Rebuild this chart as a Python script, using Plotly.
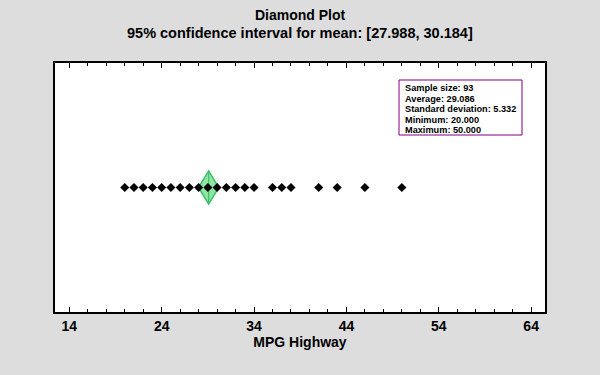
import plotly.graph_objects as go

# Data
mpg_values = [20, 21, 22, 23, 24, 25, 26, 27, 28, 29, 30, 31, 32, 33, 34, 36, 37, 38, 41, 43, 46, 50]
sample_size = 93
average = 29.086
std_dev = 5.332
minimum = 20.0
maximum = 50.0
ci_low = 27.988
ci_high = 30.184
tick_vals = [14, 24, 34, 44, 54, 64]

stats_lines = [
    f"Sample size: {sample_size}",
    f"Average: {average:.3f}",
    f"Standard deviation: {std_dev:.3f}",
    f"Minimum: {minimum:.3f}",
    f"Maximum: {maximum:.3f}",
]

y_level = 0.5
half_h = 0.067

fig = go.Figure()

# Diamond for CI
fig.add_trace(go.Scatter(
    x=[ci_low, average, ci_high, average, ci_low],
    y=[y_level, y_level + half_h, y_level, y_level - half_h, y_level],
    mode="lines", fill="toself",
    fillcolor="#8ee6a0",
    line=dict(color="#3fbf6f", width=1.5),
    hoverinfo="skip", showlegend=False))
fig.add_trace(go.Scatter(
    x=[average, average], y=[y_level + half_h, y_level - half_h],
    mode="lines", line=dict(color="#3fbf6f", width=1.2),
    hoverinfo="skip", showlegend=False))

# Points
fig.add_trace(go.Scatter(
    x=mpg_values, y=[y_level] * len(mpg_values),
    mode="markers",
    marker=dict(symbol="diamond", size=7, color="black"),
    showlegend=False))

font_family = "Liberation Sans, Arial, sans-serif"
plot_top, plot_h = 63, 249


def py(ypix):
    return 1 - (ypix - plot_top) / plot_h


annotations = [
    dict(xref="paper", yref="paper", x=0.5, y=py(15),
         xanchor="center", yanchor="middle", showarrow=False,
         text="<b>Diamond Plot</b>", font=dict(size=14, family=font_family, color="black")),
    dict(xref="paper", yref="paper", x=0.5, y=py(33),
         xanchor="center", yanchor="middle", showarrow=False,
         text="<b>95% confidence interval for mean: [27.988, 30.184]</b>",
         font=dict(size=14.5, family=font_family, color="black")),
]

# stats box text, one line each
for i, line in enumerate(stats_lines):
    ypix = 88.5 + i * 10.4
    annotations.append(dict(
        xref="paper", yref="paper", x=(403 - 55) / 490, y=py(ypix),
        xanchor="left", yanchor="middle", showarrow=False,
        text=f"<b>{line}</b>", font=dict(size=9.2, family=font_family, color="black")))

fig.update_layout(
    width=600, height=375,
    paper_bgcolor="#dddddd",
    plot_bgcolor="white",
    margin=dict(l=55, r=55, t=63, b=63),
    font=dict(family=font_family, color="black"),
    xaxis=dict(
        range=[12.45, 65.5],
        tickvals=tick_vals,
        ticktext=[f"<b>{v}</b>" for v in tick_vals],
        tickfont=dict(size=14, family=font_family),
        ticks="inside", ticklen=5, tickwidth=1, tickcolor="black",
        minor=dict(dtick=2, tick0=14, ticks="inside", ticklen=3, tickcolor="black"),
        showgrid=False, zeroline=False,
        showline=True, linecolor="black", linewidth=1.5, mirror="ticks",
        title=dict(text="<b>MPG Highway</b>", font=dict(size=14, family=font_family), standoff=3),
    ),
    yaxis=dict(
        range=[0, 1], showticklabels=False, ticks="", showgrid=False, zeroline=False,
        showline=True, linecolor="black", linewidth=1.5, mirror=True,
    ),
    shapes=[dict(
        type="rect", xref="paper", yref="paper",
        x0=(399 - 55) / 490, x1=(522 - 55) / 490,
        y0=py(135), y1=py(80),
        line=dict(color="#800080", width=1), fillcolor="white", layer="above")],
    annotations=annotations,
)

fig.write_html(
    "out.html",
    config={"displayModeBar": False},
    post_script="document.body.style.margin='0';document.body.style.overflow='hidden';",
)
